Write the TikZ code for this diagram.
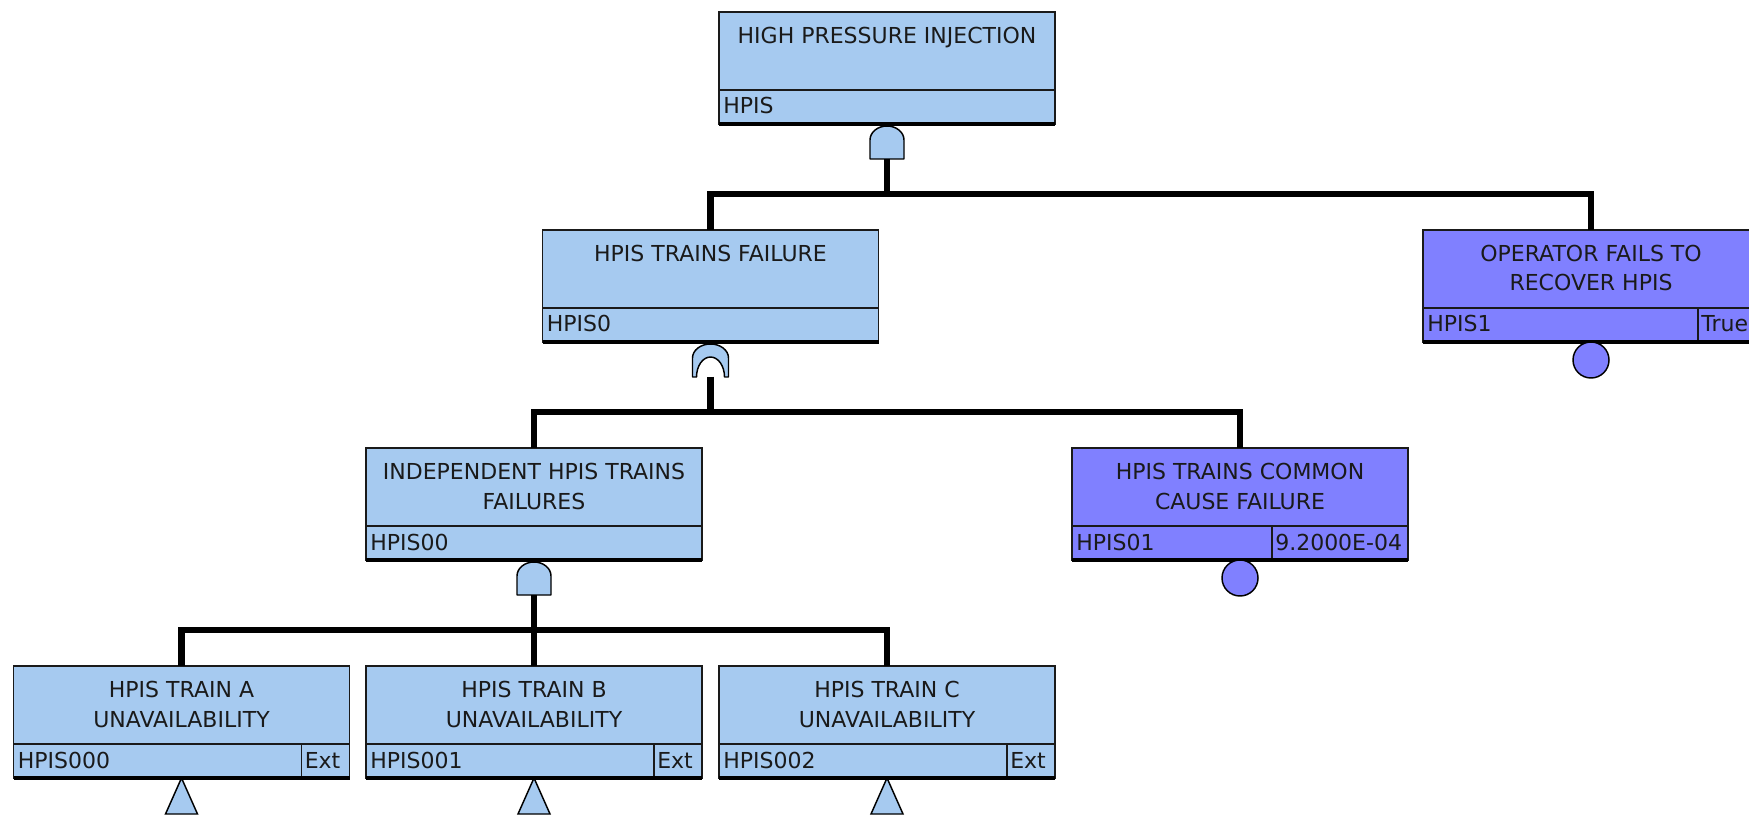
\documentclass[tikz,border=0pt]{standalone}
\usepackage{fontspec}
\setmainfont{DejaVu Sans}

\definecolor{gateblue}{HTML}{A6CAF0}
\definecolor{basicviolet}{HTML}{8080FF}
\definecolor{ink}{HTML}{1A1A1A}

% one unit = one pixel of the fault-tree canvas, y pointing down
\tikzset{
  x=0.75pt, y=-0.75pt,
  ftbox/.style={rectangle, draw=ink, line width=1.1pt, minimum width=252pt,
    minimum height=84pt, inner sep=0pt, outer sep=0pt},
  ftline/.style={draw=ink, line width=1.1pt},
  ftbottom/.style={draw=black, line width=3pt},
  ftlabel/.style={font=\fontsize{16.5pt}{20pt}\selectfont, text=ink, inner sep=0pt},
  gatesym/.style={draw=black, line width=1.1pt, fill=gateblue, line join=round},
  basicsym/.style={draw=black, line width=1.1pt, fill=basicviolet},
  conn/.style={draw=black, line width=4.8pt, line join=miter},
}

% #1 name, #2 centre x, #3 top y, #4 fill, #5 #6 title lines,
% #7 identifier, #8 value text, #9 width of the value cell
\newcommand\ftevent[9]{%
  \node[ftbox, fill=#4] (#1) at (#2,#3+56) {};
  \draw[ftline] ([shift={(0,-34)}]#1.south west) -- ([shift={(0,-34)}]#1.south east);
  \node[ftlabel, anchor=base] (#1-a) at ([shift={(0,31.5)}]#1.north) {#5};
  \if\relax\detokenize{#6}\relax\else
    \node[ftlabel, anchor=base] (#1-b) at ([shift={(0,61)}]#1.north) {#6};
  \fi
  \node[ftlabel, anchor=base west] (#1-id) at ([shift={(4,-10)}]#1.south west) {#7};
  \if\relax\detokenize{#8}\relax\else
    \draw[ftline] ([shift={(-#9,-34)}]#1.south east) -- ([shift={(-#9,0)}]#1.south east);
    \node[ftlabel, anchor=base west] (#1-v) at ([shift={(-#9+3,-10)}]#1.south east) {#8};
  \fi
  \draw[ftbottom] (#1.south west) -- (#1.south east);
}

% AND gate hanging under an event; its output is the coordinate #1-g
\newcommand\andgate[1]{%
  \path[gatesym] ([shift={(-17,35)}]#1.south) -- ++(0,-19)
    arc[start angle=180, end angle=0, x radius=12.75pt, y radius=10.5pt]
    -- ++(0,19) -- cycle;
  \coordinate (#1-g) at ([shift={(0,35)}]#1.south);
}

% OR gate hanging under an event; its output is the coordinate #1-g
\newcommand\orgate[1]{%
  \path[gatesym] ([shift={(-18,35)}]#1.south) -- ++(0,-19)
    arc[start angle=180, end angle=0, x radius=13.5pt, y radius=10.5pt]
    -- ++(0,19) -- ++(-4,0)
    arc[start angle=0, end angle=180, x radius=10.5pt, y radius=15pt]
    -- cycle;
  \coordinate (#1-g) at ([shift={(0,35)}]#1.south);
}

\begin{document}
\begin{tikzpicture}
\clip (0,0) rectangle (1749,816);
\fill[white] (0,0) rectangle (1749,816);

% events
\ftevent{HPIS}{887}{12}{gateblue}{HIGH PRESSURE INJECTION}{}{HPIS}{}{0}
\ftevent{HPIS0}{710.5}{230}{gateblue}{HPIS TRAINS FAILURE}{}{HPIS0}{}{0}
\ftevent{HPIS1}{1591}{230}{basicviolet}{OPERATOR FAILS TO}{RECOVER HPIS}{HPIS1}{True}{61}
\ftevent{HPIS00}{534}{448}{gateblue}{INDEPENDENT HPIS TRAINS}{FAILURES}{HPIS00}{}{0}
\ftevent{HPIS01}{1240}{448}{basicviolet}{HPIS TRAINS COMMON}{CAUSE FAILURE}{HPIS01}{9.2000E-04}{136}
\ftevent{HPIS000}{181.5}{666}{gateblue}{HPIS TRAIN A}{UNAVAILABILITY}{HPIS000}{Ext}{48}
\ftevent{HPIS001}{534}{666}{gateblue}{HPIS TRAIN B}{UNAVAILABILITY}{HPIS001}{Ext}{48}
\ftevent{HPIS002}{887}{666}{gateblue}{HPIS TRAIN C}{UNAVAILABILITY}{HPIS002}{Ext}{48}

% logic gates
\andgate{HPIS}
\orgate{HPIS0}
\andgate{HPIS00}

% connectors from gate outputs to inputs
\draw[conn] (HPIS-g) -- ++(0,35) -| (HPIS0.north);
\draw[conn] (HPIS-g) -- ++(0,35) -| (HPIS1.north);
\draw[conn] (HPIS0-g) -- ++(0,35) -| (HPIS00.north);
\draw[conn] (HPIS0-g) -- ++(0,35) -| (HPIS01.north);
\draw[conn] (HPIS00-g) -- ++(0,35) -| (HPIS000.north);
\draw[conn] (HPIS00-g) -- ++(0,35) -| (HPIS001.north);
\draw[conn] (HPIS00-g) -- ++(0,35) -| (HPIS002.north);

% basic events
\draw[basicsym] ([shift={(0,18)}]HPIS1.south) circle[radius=13.5pt];
\draw[basicsym] ([shift={(0,18)}]HPIS01.south) circle[radius=13.5pt];

% transfers to external trees
\draw[gatesym, line join=miter] (HPIS000.south) -- ++(16,36) -- ++(-32,0) -- cycle;
\draw[gatesym, line join=miter] (HPIS001.south) -- ++(16,36) -- ++(-32,0) -- cycle;
\draw[gatesym, line join=miter] (HPIS002.south) -- ++(16,36) -- ++(-32,0) -- cycle;
\end{tikzpicture}
\end{document}
